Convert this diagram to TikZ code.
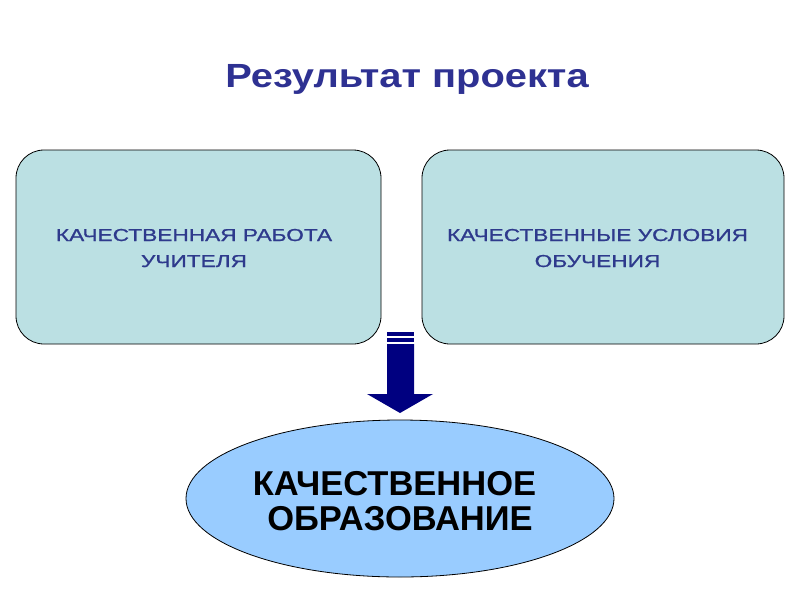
\documentclass[tikz,border=0pt]{standalone}
\usepackage{fontspec}
\setmainfont{Liberation Sans}
\newfontfamily\widetitle[FakeStretch=1.19]{Liberation Sans}
\newfontfamily\widebox[FakeStretch=1.31,FakeBold=1]{Liberation Sans}
\usetikzlibrary{shapes.geometric}
\definecolor{titleblue}{HTML}{2E3192}
\definecolor{boxfill}{HTML}{BBE0E3}
\definecolor{boxtext}{HTML}{2E3A8C}
\definecolor{ellfill}{HTML}{99CCFF}
\definecolor{navy}{HTML}{000080}
\tikzset{
  roundbox/.style={draw=black, line width=0.8pt, fill=boxfill, rounded corners=28pt},
  boxlabel/.style={text=boxtext, font=\widebox\fontsize{17.3}{26}\selectfont, anchor=base, inner sep=0pt},
  elllabel/.style={font=\bfseries\fontsize{34.5}{35}\selectfont, anchor=base, inner sep=0pt},
  arrowpart/.style={fill=navy, draw=none}
}
\begin{document}
\begin{tikzpicture}[x=1pt,y=-1pt]
\useasboundingbox (0,0) rectangle (800,600);
\node[text=titleblue, font=\widetitle\bfseries\fontsize{33.5}{36}\selectfont, anchor=base, inner sep=0pt] (title) at (407,87) {Результат проекта};
\draw[roundbox] (16,150) rectangle (381,344);
\node[boxlabel] (b1a) at (194,241) {КАЧЕСТВЕННАЯ РАБОТА};
\node[boxlabel] (b1b) at (194,267) {УЧИТЕЛЯ};
\draw[roundbox] (422,150) rectangle (784,344);
\node[boxlabel] (b2a) at (597.5,241) {КАЧЕСТВЕННЫЕ УСЛОВИЯ};
\node[boxlabel] (b2b) at (597.5,267) {ОБУЧЕНИЯ};
% arrow
\fill[arrowpart] (387,332) rectangle (414,335.5);
\fill[arrowpart] (387,337.5) rectangle (414,342);
\fill[arrowpart] (387,344) -- (414,344) -- (414,394) -- (433,394) -- (400,413) -- (367,394) -- (387,394) -- cycle;
\node[ellipse, draw=black, line width=0.8pt, fill=ellfill, minimum width=428pt, minimum height=157pt, inner sep=0pt] (ell) at (400,498.5) {};
\node[elllabel] (e1) at (394.5,495) {КАЧЕСТВЕННОЕ};
\node[elllabel] (e2) at (400,530) {ОБРАЗОВАНИЕ};
\end{tikzpicture}
\end{document}
